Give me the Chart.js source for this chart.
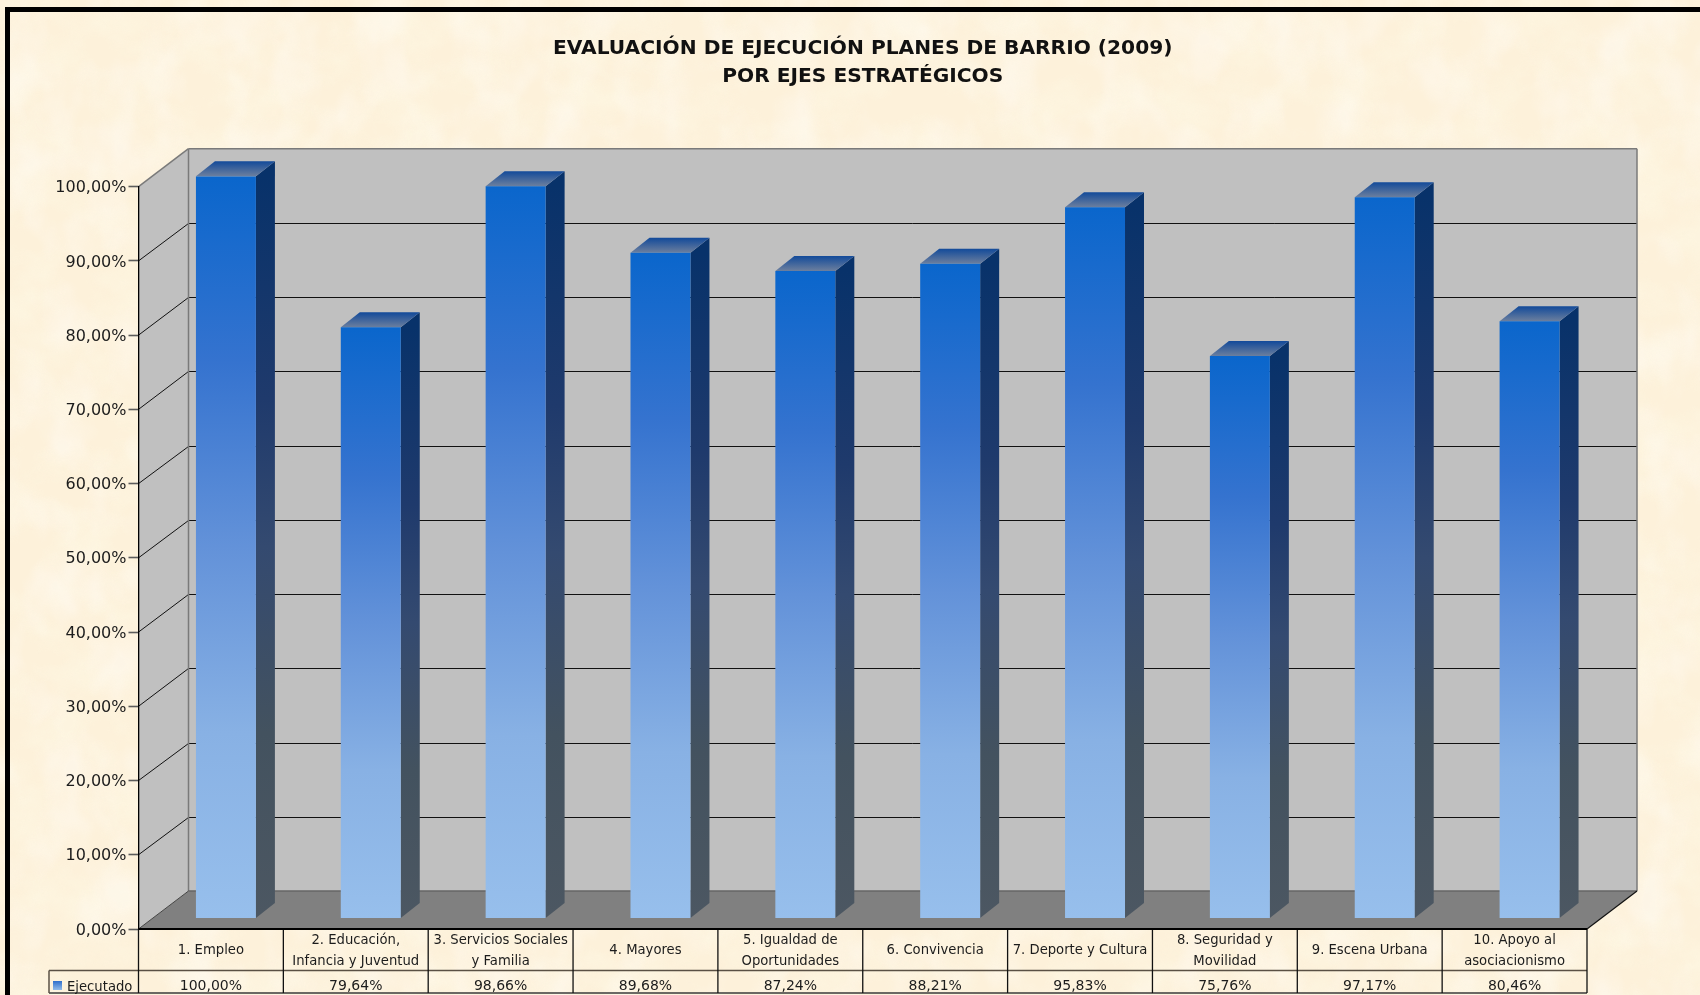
<!DOCTYPE html>
<html>
<head>
<meta charset="utf-8">
<title>Planes de Barrio</title>
<script src="https://cdn.jsdelivr.net/npm/chart.js@4"></script>
<style>
html, body { margin: 0; padding: 0; width: 1700px; height: 995px; overflow: hidden; background-color: #fdf1da; }
#paper { position: absolute; left: 0; top: 0; width: 1700px; height: 995px; }
#frame { position: absolute; left: 5px; top: 7px; width: 1720px; height: 1020px; border: 5px solid #000; box-sizing: border-box; }
#wrap { position: absolute; left: 0; top: 0; width: 1700px; height: 995px; }
</style>
</head>
<body>
<svg id="paper" xmlns="http://www.w3.org/2000/svg">
  <filter id="mottle" x="0" y="0" width="100%" height="100%">
    <feTurbulence type="fractalNoise" baseFrequency="0.018 0.024" numOctaves="4" seed="7"/>
    <feColorMatrix type="matrix" values="0 0 0 0 0.985  0 0 0 0 0.925  0 0 0 0 0.76  2.6 0 0 0 -1.05"/>
  </filter>
  <filter id="mottle2" x="0" y="0" width="100%" height="100%">
    <feTurbulence type="fractalNoise" baseFrequency="0.022 0.016" numOctaves="3" seed="23"/>
    <feColorMatrix type="matrix" values="0 0 0 0 1  0 0 0 0 0.97  0 0 0 0 0.92  2.6 0 0 0 -1.1"/>
  </filter>
  <rect width="1700" height="995" fill="#fdf1da"/>
  <rect width="1700" height="995" filter="url(#mottle)" opacity="0.7"/>
  <rect width="1700" height="995" filter="url(#mottle2)" opacity="0.45"/>
</svg>
<div id="frame"></div>
<div id="wrap"><canvas id="chart" width="1700" height="995"></canvas></div>
<script>
// Data
const titleLines = ['EVALUACIÓN DE EJECUCIÓN PLANES DE BARRIO (2009)', 'POR EJES ESTRATÉGICOS'];
const categories = [
    ['1. Empleo'],
    ['2. Educación,', 'Infancia y Juventud'],
    ['3. Servicios Sociales', 'y Familia'],
    ['4. Mayores'],
    ['5. Igualdad de', 'Oportunidades'],
    ['6. Convivencia'],
    ['7. Deporte y Cultura'],
    ['8. Seguridad y', 'Movilidad'],
    ['9. Escena Urbana'],
    ['10. Apoyo al', 'asociacionismo']
];
const ejecutado = [100.00, 79.64, 98.66, 89.68, 87.24, 88.21, 95.83, 75.76, 97.17, 80.46];
const valueLabels = ['100,00%', '79,64%', '98,66%', '89,68%', '87,24%', '88,21%', '95,83%', '75,76%', '97,17%', '80,46%'];
const yTickLabels = ['0,00%', '10,00%', '20,00%', '30,00%', '40,00%', '50,00%', '60,00%', '70,00%', '80,00%', '90,00%', '100,00%'];
const seriesName = 'Ejecutado';

const FONT = '"DejaVu Sans", sans-serif';
const TEXT = '#1c1c1c';

// 3D offsets
const wallDX = 50, wallDY = -38;
const barDX = 15, barDY = -10.5;
const sideDX = 19, sideDY = -15;

const frontStops = [[0, '#0a66cc'], [0.25, '#3573cf'], [0.5, '#6392d9'], [0.75, '#88b1e4'], [1, '#97bfec']];
const sideStops = [[0, '#08326a'], [0.3, '#1f3a6c'], [0.5, '#344a70'], [0.75, '#43525f'], [1, '#4c5762']];

function poly(ctx, pts, fill, stroke, lw) {
    ctx.beginPath();
    pts.forEach((p, i) => i ? ctx.lineTo(p[0], p[1]) : ctx.moveTo(p[0], p[1]));
    ctx.closePath();
    if (fill) { ctx.fillStyle = fill; ctx.fill(); }
    if (stroke) { ctx.strokeStyle = stroke; ctx.lineWidth = lw || 1; ctx.stroke(); }
}
function line(ctx, x1, y1, x2, y2, color, lw) {
    ctx.beginPath();
    ctx.moveTo(x1, y1);
    ctx.lineTo(x2, y2);
    ctx.strokeStyle = color;
    ctx.lineWidth = lw;
    ctx.stroke();
}
function vGrad(ctx, y1, y2, stops) {
    const g = ctx.createLinearGradient(0, y1, 0, y2);
    stops.forEach(s => g.addColorStop(s[0], s[1]));
    return g;
}

// Walls, floor and gridlines
const wallsPlugin = {
    id: 'walls',
    beforeDraw(chart) {
        const ctx = chart.ctx, a = chart.chartArea, y = chart.scales.y;
        const l = a.left, r = a.right, t = y.getPixelForValue(100), b = y.getPixelForValue(0);
        ctx.save();
        poly(ctx, [[l, b], [l + wallDX, b + wallDY], [l + wallDX, t + wallDY], [l, t]], '#c0c0c0');
        poly(ctx, [[l + wallDX, t + wallDY], [r + wallDX, t + wallDY], [r + wallDX, b + wallDY], [l + wallDX, b + wallDY]], '#c0c0c0');
        poly(ctx, [[l, b], [r, b], [r + wallDX, b + wallDY], [l + wallDX, b + wallDY]], '#808080');
        y.ticks.forEach(tk => {
            if (tk.value === 0 || tk.value === 100) return;
            const py = y.getPixelForValue(tk.value);
            const backY = Math.round(py + wallDY) + 0.5;
            line(ctx, l, py, l + wallDX, backY, '#111', 1);
            line(ctx, l + wallDX, backY, r + wallDX, backY, '#111', 1);
        });
        // wall edges
        line(ctx, l, t, l + wallDX, t + wallDY, '#7a7a7a', 1.5);
        line(ctx, l + wallDX, t + wallDY, r + wallDX, t + wallDY, '#7a7a7a', 1.5);
        line(ctx, l + wallDX, t + wallDY, l + wallDX, b + wallDY, '#7a7a7a', 1.5);
        line(ctx, r + wallDX, t + wallDY, r + wallDX, b + wallDY, '#7a7a7a', 1.5);
        line(ctx, l + wallDX, b + wallDY, r + wallDX, b + wallDY, '#666', 1.5);
        line(ctx, l, b, l + wallDX, b + wallDY, '#444', 1);
        line(ctx, r, b, r + wallDX, b + wallDY, '#111', 1.2);
        ctx.restore();
    }
};

// Pushes the bars back into the box and draws their side and top faces
const depthPlugin = {
    id: 'depth',
    beforeDatasetsDraw(chart) {
        const ctx = chart.ctx;
        ctx.save();
        ctx.translate(barDX, barDY);
        chart.getDatasetMeta(0).data.forEach(bar => {
            const x2 = bar.x + bar.width / 2, x1 = bar.x - bar.width / 2;
            const top = bar.y, base = bar.base;
            poly(ctx, [[x2, top], [x2 + sideDX, top + sideDY], [x2 + sideDX, base + sideDY], [x2, base]],
                vGrad(ctx, top, base, sideStops));
            poly(ctx, [[x1, top], [x1 + sideDX, top + sideDY], [x2 + sideDX, top + sideDY], [x2, top]],
                vGrad(ctx, top + sideDY, top, [[0, '#124a9a'], [1, '#6c7f9e']]));
        });
    },
    afterDatasetsDraw(chart) {
        chart.ctx.restore();
    }
};

// Data table under the chart
const tablePlugin = {
    id: 'dataTable',
    afterDraw(chart) {
        const ctx = chart.ctx, a = chart.chartArea, xs = chart.scales.x;
        const top = a.bottom, mid = 970.5, bot = 993, legendLeft = 49;
        const colW = (a.right - a.left) / categories.length;
        ctx.save();
        line(ctx, legendLeft, mid, a.right, mid, '#5a5044', 1.5);
        line(ctx, legendLeft, bot, a.right, bot, '#3a3a3a', 1.5);
        line(ctx, legendLeft, mid, legendLeft, bot, '#5a5044', 1.5);
        for (let i = 0; i <= categories.length; i++) {
            const x = a.left + colW * i;
            line(ctx, x, top, x, bot, '#111', 1.3);
        }
        line(ctx, a.left, top, a.right, top, '#000', 1.8);
        ctx.textAlign = 'center';
        ctx.textBaseline = 'middle';
        ctx.fillStyle = TEXT;
        ctx.font = '13.2px ' + FONT;
        categories.forEach((lines, i) => {
            const cx = xs.getPixelForTick(i);
            if (lines.length === 1) ctx.fillText(lines[0], cx, 951);
            else { ctx.fillText(lines[0], cx, 941); ctx.fillText(lines[1], cx, 961.5); }
        });
        ctx.font = '14px ' + FONT;
        valueLabels.forEach((txt, i) => ctx.fillText(txt, xs.getPixelForTick(i), 986));
        // legend key
        ctx.fillStyle = vGrad(ctx, 981, 990, [[0, '#2f6fcc'], [1, '#92bbe9']]);
        ctx.fillRect(53, 981, 9, 9);
        ctx.textAlign = 'left';
        ctx.fillStyle = TEXT;
        ctx.font = '13.2px ' + FONT;
        ctx.fillText(seriesName, 67, 987.5);
        ctx.restore();
    }
};

new Chart(document.getElementById('chart').getContext('2d'), {
    type: 'bar',
    data: {
        labels: categories,
        datasets: [{
            label: seriesName,
            data: ejecutado,
            barPercentage: 0.414,
            categoryPercentage: 1,
            backgroundColor(c) {
                const chart = c.chart, y = chart.scales.y;
                if (!chart.chartArea || c.parsed === undefined || c.parsed === null) return '#3b78d0';
                return vGrad(chart.ctx, y.getPixelForValue(c.parsed.y), y.getPixelForValue(0), frontStops);
            },
            borderWidth: 0
        }]
    },
    plugins: [wallsPlugin, depthPlugin, tablePlugin],
    options: {
        responsive: false,
        animation: false,
        layout: { padding: { left: 0, right: 113, top: 0, bottom: 66 } },
        plugins: {
            legend: { display: false },
            tooltip: { enabled: false },
            title: {
                display: true,
                fullSize: false,
                text: titleLines,
                color: '#111',
                font: { family: FONT, size: 20.2, weight: 'bold', lineHeight: 1.366 },
                padding: { top: 35, bottom: 96.5 }
            }
        },
        scales: {
            x: {
                display: true,
                afterFit(scale) { scale.height = 0; },
                grid: { display: false },
                border: { display: false },
                ticks: { display: false }
            },
            y: {
                min: 0,
                max: 100,
                afterFit(scale) { scale.width = 138.5; },
                border: { display: true, color: '#000', width: 1.3 },
                grid: { drawOnChartArea: false, drawTicks: true, tickLength: 10, tickColor: '#5c5c5c', tickWidth: 1.6 },
                ticks: {
                    stepSize: 10,
                    padding: 2,
                    labelOffset: 1.5,
                    color: TEXT,
                    font: { family: FONT, size: 16 },
                    callback: (v, i) => yTickLabels[i]
                }
            }
        }
    }
});
</script>
</body>
</html>
